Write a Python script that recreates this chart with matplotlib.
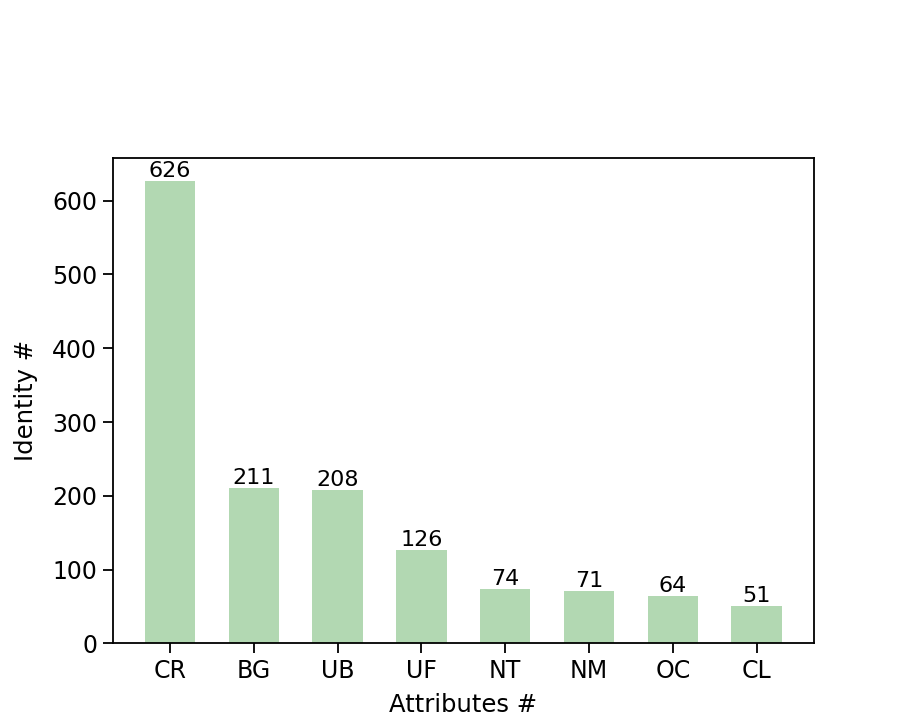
import matplotlib
matplotlib.use("Agg")
import matplotlib.pyplot as plt

attrs = ["CR", "BG", "UB", "UF", "NT", "NM", "OC", "CL"]
counts = [626, 211, 208, 126, 74, 71, 64, 51]

fig = plt.figure(figsize=(9.04, 7.23), dpi=100)
ax = fig.add_axes([0.125, 0.11, 0.775, 0.671])

bars = ax.bar(range(len(attrs)), counts, width=0.6, color="green", alpha=0.3)
for rect, v in zip(bars, counts):
    ax.text(rect.get_x() + rect.get_width() / 2, rect.get_height(), str(v),
            ha="center", va="bottom", fontsize=16)

ax.set_xticks(range(len(attrs)))
ax.set_xticklabels(attrs)
ax.tick_params(labelsize=17, length=7, width=1.3, pad=4.5)
for s in ax.spines.values():
    s.set_linewidth(1.3)
ax.set_xlabel("Attributes #", fontsize=17.5, labelpad=7)
ax.set_ylabel("Identity #", fontsize=17.5, labelpad=10)

fig.savefig("out.png", dpi=100)
